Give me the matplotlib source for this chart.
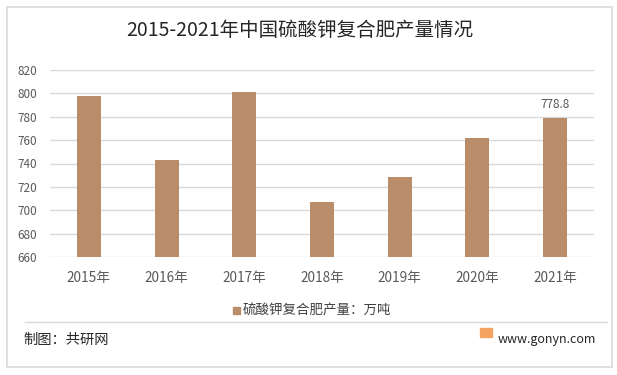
import numpy as np
import matplotlib.pyplot as plt
from matplotlib.patches import Rectangle

plt.rcParams['font.family'] = ['Noto Sans CJK SC', 'DejaVu Sans']

years = ['2015年', '2016年', '2017年', '2018年', '2019年', '2020年', '2021年']
output = [797.8, 743.0, 801.0, 707.0, 728.5, 762.0, 778.8]
series_name = '硫酸钾复合肥产量：万吨'

bar_color = '#BA8D6A'
text_color = '#595959'
grid_color = '#D9D9D9'

W, H = 617, 375


def fx(px):
    return px / W


def fy(py):
    return 1 - py / H


fig = plt.figure(figsize=(6.17, 3.75), dpi=100)
fig.patch.set_facecolor('white')

# outer frame
fig.patches.append(Rectangle((fx(7), fy(367)), 605 / W, 360 / H, transform=fig.transFigure,
                             fill=False, edgecolor='#D9D9D9', linewidth=1.2))

ax = fig.add_axes([fx(50), fy(257), 544 / W, 187 / H])
x = np.arange(len(years))
ax.bar(x, output, width=0.31, bottom=0, color=bar_color, zorder=2)
ax.set_ylim(660, 820)
ax.set_xlim(-0.5, len(years) - 0.5)
ax.set_yticks(np.arange(660, 821, 20))
ax.yaxis.grid(True, color=grid_color, linewidth=1)
ax.set_axisbelow(True)
for s in ax.spines.values():
    s.set_visible(False)
ax.tick_params(axis='both', length=0, colors=text_color, labelsize=8.5)
ax.tick_params(axis='x', pad=10, labelsize=9.8)
ax.tick_params(axis='y', pad=9)
ax.set_xticks(x)
ax.set_xticklabels(years)

ax.annotate(f'{output[-1]:.1f}', (x[-1], output[-1]), xytext=(0, 5), textcoords='offset points',
            ha='center', va='bottom', fontsize=8.5, color=text_color)

fig.text(fx(300), fy(30), '2015-2021年中国硫酸钾复合肥产量情况', ha='center', va='center',
         fontsize=14, color='#262626')

# legend
fig.patches.append(Rectangle((fx(233), fy(314)), 7 / W, 7 / H, transform=fig.transFigure,
                             color=bar_color))
fig.text(fx(243), fy(311), series_name, ha='left', va='center', fontsize=9.7, color='#404040')

# separator
fig.add_artist(plt.Line2D([fx(25), fx(607)], [fy(322), fy(322)],
                          transform=fig.transFigure, color='#D9D9D9', linewidth=1))

fig.text(fx(23), fy(340), '制图：共研网', ha='left', va='center', fontsize=10.3, color='#262626')
fig.patches.append(Rectangle((fx(480), fy(337)), 12 / W, 9 / H, transform=fig.transFigure,
                             color='#F4A460'))
fig.text(fx(498), fy(339), 'www.gonyn.com', ha='left', va='center', fontsize=9, color='#262626')

fig.savefig('out.png', dpi=100, facecolor='white')
